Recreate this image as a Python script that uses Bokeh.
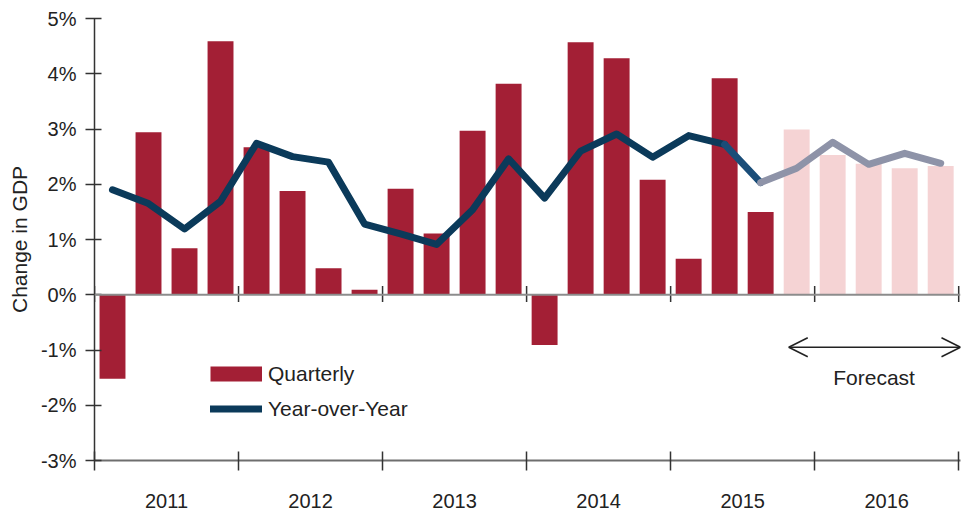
from bokeh.plotting import figure
from bokeh.models import FixedTicker, Legend, LegendItem, Arrow, OpenHead, Span, Label
from bokeh.embed import file_html
from bokeh.resources import INLINE

# ---------------- data ----------------
years = ["2011", "2012", "2013", "2014", "2015", "2016"]
quarterly = [-1.52, 2.94, 0.84, 4.59,
             2.67, 1.88, 0.48, 0.09,
             1.92, 1.11, 2.97, 3.82,
             -0.91, 4.57, 4.28, 2.08,
             0.65, 3.92, 1.50, 2.99,
             2.53, 2.37, 2.29, 2.33]
year_over_year = [1.90, 1.65, 1.19, 1.69,
                  2.74, 2.50, 2.40, 1.28,
                  1.10, 0.91, 1.54, 2.46,
                  1.75, 2.60, 2.91, 2.49,
                  2.88, 2.72, 2.03, 2.29,
                  2.76, 2.36, 2.56, 2.38]
n_actual = 19          # quarters of actual data (rest is forecast)
y_ticks = [-3, -2, -1, 0, 1, 2, 3, 4, 5]
y_tick_labels = ["-3%", "-2%", "-1%", "0%", "1%", "2%", "3%", "4%", "5%"]

# ---------------- derived ----------------
xq = list(range(len(quarterly)))
q_per_year = 4
boundaries = [i * q_per_year - 0.5 for i in range(len(years) + 1)]
mids = [i * q_per_year + 1.5 for i in range(len(years))]

FONT = "Liberation Sans"
TXT = "#222222"
RED = "#a31f35"
PINK = "#f5d3d4"
NAVY = "#0b3a5a"
NAVY2 = "#1a4d78"
GRAY = "#8e93a8"

p = figure(width=968, height=510, x_range=(-0.5, 23.55), y_range=(-3, 5),
           output_backend="svg", toolbar_location=None,
           min_border_left=94, min_border_right=8, min_border_top=18,
           min_border_bottom=46)
p.outline_line_color = None
p.grid.visible = False
p.background_fill_color = "white"
p.border_fill_color = "white"

# bars
p.vbar(x=xq[:n_actual], top=quarterly[:n_actual], bottom=0, width=0.72,
       fill_color=RED, line_color=None)
p.vbar(x=xq[n_actual:], top=quarterly[n_actual:], bottom=0, width=0.72,
       fill_color=PINK, line_color=None)

# zero line and its ticks
p.add_layout(Span(location=0, dimension="width", line_color="#8c8c8c", line_width=2))
p.segment(x0=boundaries, y0=[-0.13] * len(boundaries), x1=boundaries,
          y1=[0.16] * len(boundaries), line_color="#333333", line_width=1.5)

# lines
lw = 7
line_actual = p.line(xq[:n_actual - 1], year_over_year[:n_actual - 1], line_color=NAVY,
                     line_width=lw, line_cap="round", line_join="round")
p.line(xq[n_actual - 2:n_actual], year_over_year[n_actual - 2:n_actual], line_color=NAVY2,
       line_width=lw, line_cap="round", line_join="round")
p.line(xq[n_actual - 1:], year_over_year[n_actual - 1:], line_color=GRAY,
       line_width=lw, line_cap="round", line_join="round")

# legend swatch proxy for the bars (a single NaN point, so nothing is drawn in the plot)
nan = float("nan")
bar_swatch = p.line(x=[nan], y=[nan], line_color=RED, line_width=15, line_cap="butt")

# y axis
ya = p.yaxis[0]
ya.ticker = FixedTicker(ticks=y_ticks)
ya.major_label_overrides = {t: l for t, l in zip(y_ticks, y_tick_labels)}
ya.minor_tick_line_color = None
ya.major_tick_in = 7
ya.major_tick_out = 9
ya.major_tick_line_color = "#333333"
ya.major_tick_line_width = 1.5
ya.axis_line_color = "#333333"
ya.axis_line_width = 1.5
ya.major_label_standoff = 9
ya.major_label_text_font = FONT
ya.major_label_text_font_size = "20px"
ya.major_label_text_color = TXT
ya.axis_label = "Change in GDP"
ya.axis_label_text_font = FONT
ya.axis_label_text_font_size = "21px"
ya.axis_label_text_font_style = "normal"
ya.axis_label_text_color = TXT
ya.axis_label_standoff = 7

# x axis
xa = p.xaxis[0]
xa.ticker = FixedTicker(ticks=mids, minor_ticks=boundaries)
xa.major_label_overrides = {m: y for m, y in zip(mids, years)}
xa.major_tick_line_color = None
xa.major_tick_in = 0
xa.major_tick_out = 0
xa.minor_tick_in = 9
xa.minor_tick_out = 10
xa.minor_tick_line_color = "#333333"
xa.minor_tick_line_width = 1.5
xa.axis_line_color = "#6e6e6e"
xa.axis_line_width = 2
xa.major_label_standoff = 23
xa.major_label_text_font = FONT
xa.major_label_text_font_size = "20px"
xa.major_label_text_color = TXT

# legend
legend = Legend(items=[LegendItem(label="Quarterly", renderers=[bar_swatch]),
                       LegendItem(label="Year-over-Year", renderers=[line_actual])],
                location=(116, 39), orientation="vertical",
                glyph_width=52, glyph_height=25, label_height=25,
                label_standoff=6, padding=0, margin=0, spacing=10,
                border_line_color=None, background_fill_alpha=0,
                label_text_font=FONT, label_text_font_size="21px",
                label_text_color=TXT)
p.add_layout(legend)

# forecast arrow and label
p.add_layout(Arrow(start=OpenHead(size=19, line_width=1.5, line_color="#222222"),
                   end=OpenHead(size=19, line_width=1.5, line_color="#222222"),
                   x_start=18.78, y_start=-0.95, x_end=23.55, y_end=-0.95,
                   line_width=1.5, line_color="#222222"))
p.add_layout(Label(x=21.15, y=-1.49, text="Forecast", text_align="center",
                   text_baseline="alphabetic", text_font=FONT, text_font_size="21px",
                   text_color=TXT))

open("out.html", "w").write(file_html(p, INLINE))
